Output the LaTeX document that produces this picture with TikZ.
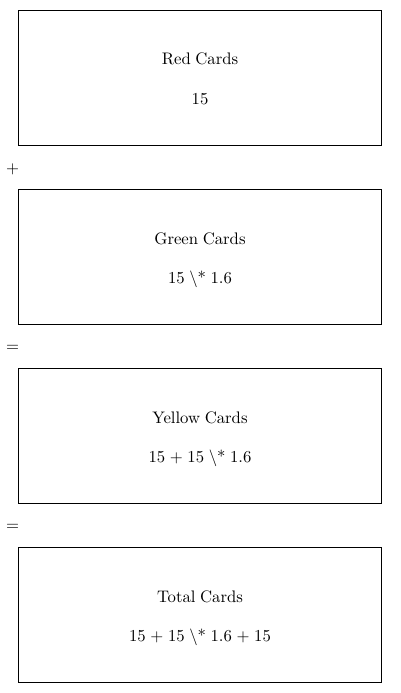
\documentclass[tikz,border=0pt]{standalone}
\usepackage{fontspec}
\setmainfont{lmroman10-regular}[Extension=.otf]
\begin{document}
\begin{tikzpicture}[x=1pt,y=-1pt,
  card/.style={draw=black,line width=0.8pt,minimum width=363pt,minimum height=135pt,inner sep=0pt},
  lbl/.style={font={\fontsize{16.7}{19}\selectfont\spaceskip=4.6pt\relax},inner sep=0pt,anchor=base},
  sym/.style={font=\fontsize{16.7}{19}\selectfont,inner sep=0pt}]
\useasboundingbox (0,0) rectangle (400,693);
\node[card] (b1) at (199.5,77.5) {};
\node[card] (b2) at (199.5,256.5) {};
\node[card] (b3) at (199.5,435.5) {};
\node[card] (b4) at (199.5,614.5) {};
\node[lbl] (t1) at (200,65) {Red Cards};
\node[lbl] (v1) at (200,104) {15};
\node[lbl] (t2) at (200,244) {Green Cards};
\node[lbl] (v2) at (200,283) {15 \textbackslash* 1.6};
\node[lbl] (t3) at (200,423) {Yellow Cards};
\node[lbl] (v3) at (200,462) {15 + 15 \textbackslash* 1.6};
\node[lbl] (t4) at (200,602) {Total Cards};
\node[lbl] (v4) at (200,641) {15 + 15 \textbackslash* 1.6 + 15};
\node[sym] (p1) at (12.5,169.5) {+};
\node[sym] (e1) at (12.5,348.5) {=};
\node[sym] (e2) at (12.5,527.5) {=};
\end{tikzpicture}
\end{document}
